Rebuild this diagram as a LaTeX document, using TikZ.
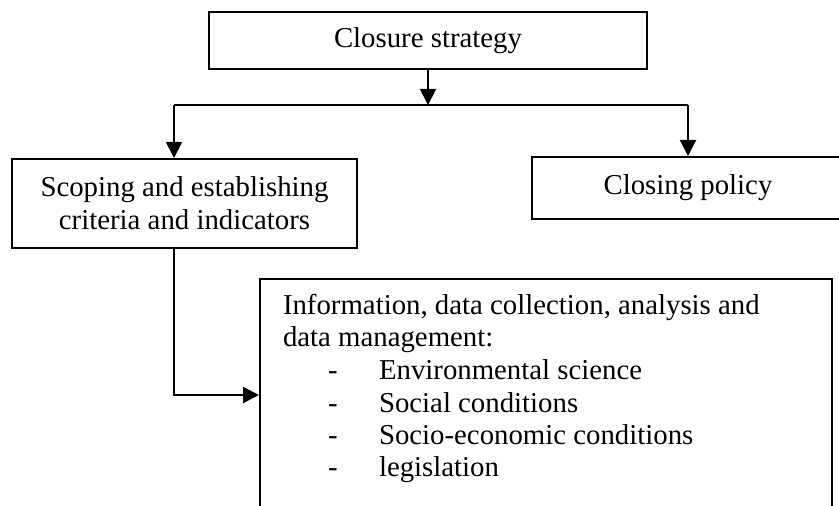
\documentclass[tikz,border=0pt]{standalone}
\usepackage{fontspec}
\setmainfont{Liberation Serif}
\usetikzlibrary{arrows.meta,positioning}
\tikzset{box/.style={draw,line width=1pt,inner sep=0pt,align=center},
  txt/.style={anchor=base west,inner sep=0pt},
  arr/.style={line width=1pt,-{Triangle[width=8pt,length=8pt]}}}

\begin{document}
\begin{tikzpicture}[x=.5pt,y=-.5pt,font=\fontsize{14.4}{16.4}\selectfont,line width=1pt]
\useasboundingbox (0,0) rectangle (839,506);
\clip (0,0) rectangle (839,506);
\node[box,minimum width=219pt,minimum height=28.5pt] (strategy) at (428,40.5) {Closure strategy};
\node[box,minimum width=172.5pt,minimum height=44.5pt] (scoping) at (184.5,203.5) {Scoping and establishing\\criteria and indicators};
\node[box,minimum width=156pt,minimum height=31pt] (policy) at (688,188) {Closing policy};
\node[box,minimum width=286pt,minimum height=116pt] (info) at (546,395) {};
% text of the lower box
\node[txt] (infoa) at (282,315) {Information, data collection, analysis and};
\node[txt] (infob) at (282,347) {data management:};
\foreach \i/\lab in {0/Environmental science,1/Social conditions,2/Socio-economic conditions,3/legislation}{
  \node[txt] (dash\i) at (327,380+32.3*\i) {-};
  \node[txt] (item\i) at (378,380+32.3*\i) {\lab};}
% connectors
\coordinate (brl) at (174,105);
\coordinate (brr) at (policy.north |- brl);
\draw[arr] (strategy.south) -- (strategy.south |- brl);
\draw (brl) -- (brr);
\draw[arr] (brl) -- (brl |- scoping.north);
\draw[arr] (brr) -- (policy.north);
\draw[arr] (brl |- scoping.south) |- (info.west);
\end{tikzpicture}
\end{document}
